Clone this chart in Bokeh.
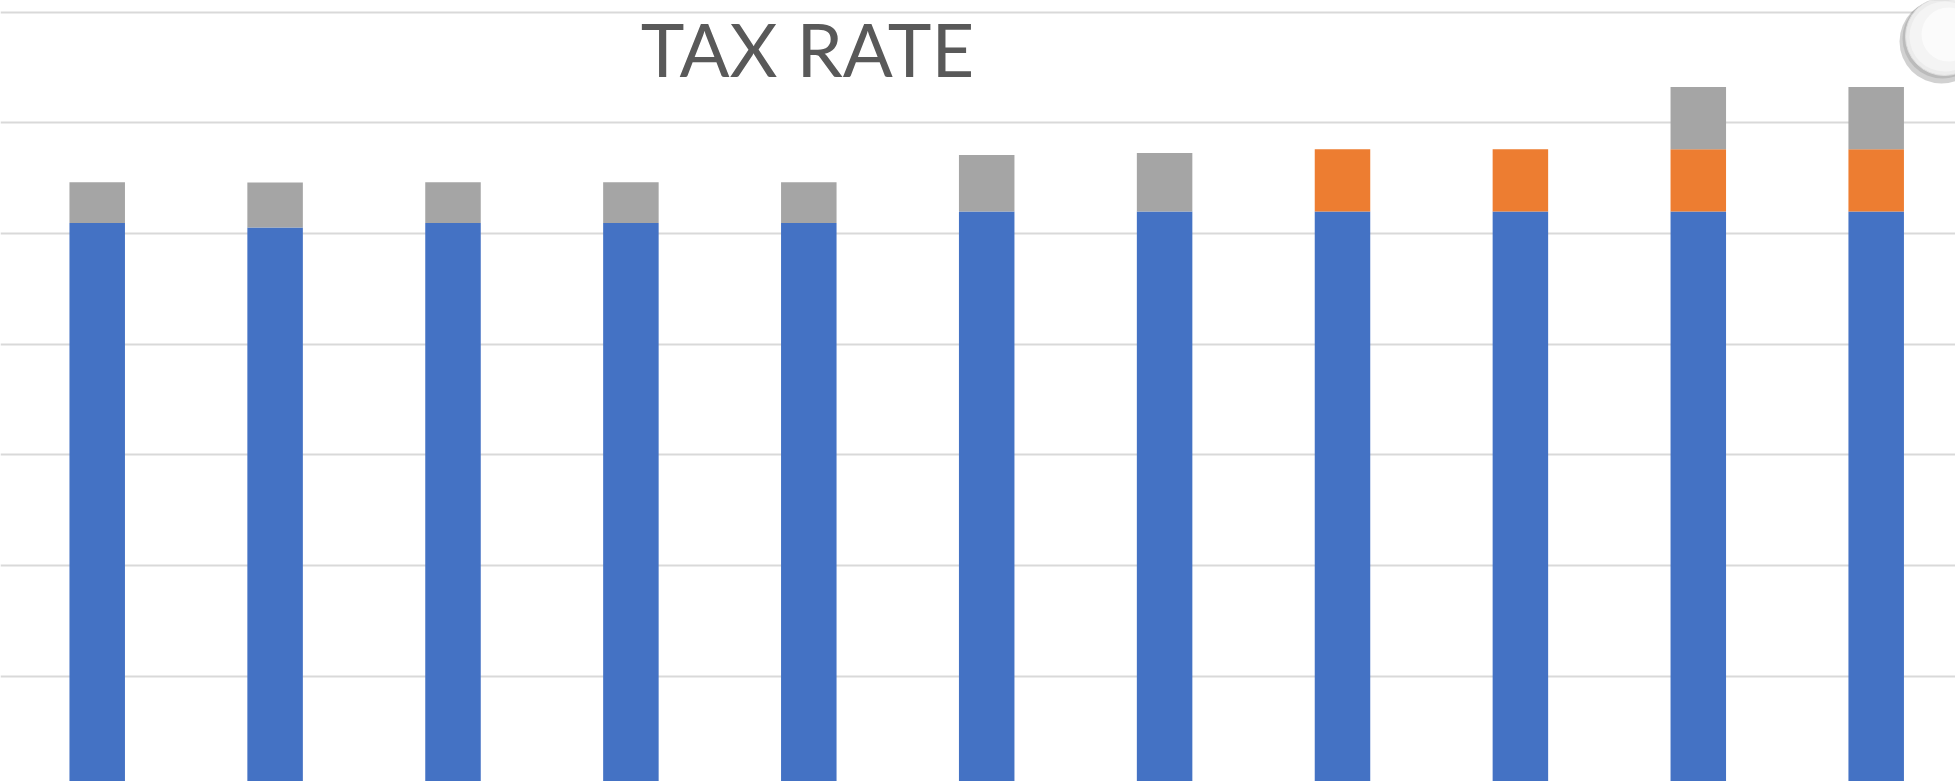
from bokeh.plotting import figure
from bokeh.models import Range1d, Grid, SingleIntervalTicker, Label, ColumnDataSource
from bokeh.embed import file_html
from bokeh.resources import INLINE

# ---- data ----
categories = [1, 2, 3, 4, 5, 6, 7, 8, 9, 10, 11]
base_rate = [25.47, 25.27, 25.47, 25.47, 25.47, 25.99, 25.99, 25.99, 25.99, 25.99, 25.99]
surcharge = [0, 0, 0, 0, 0, 0, 0, 2.81, 2.81, 2.81, 2.81]
cess = [1.85, 2.03, 1.85, 1.85, 1.85, 2.56, 2.65, 0, 0, 2.82, 2.82]
series = ["base_rate", "surcharge", "cess"]
colors = ["#4472C4", "#ED7D31", "#A5A5A5"]
title_text = "TAX RATE"

W, H = 1955, 781
x0, x1 = 0.4564, 11.4458
y0, y1 = 0.253, 35.522

p = figure(width=W, height=H, output_backend="svg", toolbar_location=None,
           x_range=Range1d(x0, x1), y_range=Range1d(y0, y1),
           x_axis_location=None, y_axis_location=None,
           min_border=0, min_border_left=0, min_border_right=0,
           min_border_top=0, min_border_bottom=0)
p.outline_line_color = None
p.background_fill_color = "white"
p.border_fill_color = "white"
for g in list(p.grid):
    g.visible = False

grid = Grid(dimension=1, ticker=SingleIntervalTicker(interval=5),
            grid_line_color="#d9d9d9", grid_line_width=2)
p.add_layout(grid)

src = ColumnDataSource(dict(x=categories, base_rate=base_rate,
                            surcharge=surcharge, cess=cess))
p.vbar_stack(series, x="x", width=0.312, color=colors, source=src,
             line_color=None)

# title
p.add_layout(Label(x=807, y=H - 48, x_units="screen", y_units="screen",
                   text=title_text, text_align="center",
                   text_baseline="alphabetic", text_font="Lato",
                   text_font_size="74px", text_color="#595959"))

# decorative glossy button at top-right corner (screenshot artifact)
def px2x(px):
    return x0 + px / W * (x1 - x0)

def py2y(py):
    return y1 - py / H * (y1 - y0)

cx, cy = px2x(1944), py2y(36)
p.scatter([px2x(1941)], [py2y(41)], size=84, fill_color="#7a7a7a", fill_alpha=0.35, line_color=None)
p.scatter([px2x(1942)], [py2y(38)], size=80, fill_color="#9a9a9a", fill_alpha=0.4, line_color=None)
p.scatter([cx], [cy], size=78, fill_color="#ececec", line_color="#dedede", line_width=1)
p.scatter([cx], [cy], size=70, fill_color="#f4f4f4", line_color=None)
p.scatter([px2x(1948)], [py2y(34)], size=54, fill_color="#fbfbfb", line_color=None)

open("out.html", "w").write(file_html(p, INLINE))
